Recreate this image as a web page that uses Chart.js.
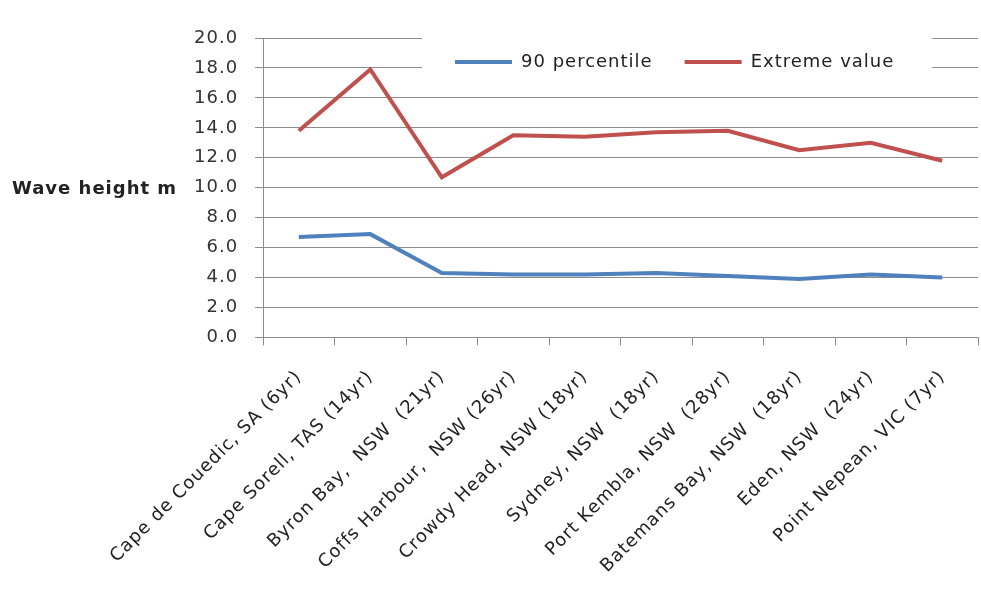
<!DOCTYPE html>
<html>
<head>
<meta charset="utf-8">
<script src="https://cdn.jsdelivr.net/npm/chart.js@4.4.0/dist/chart.umd.min.js"></script>
<style>
	html, body { margin: 0; padding: 0; background: #fff; }
</style>
</head>
<body>
<canvas id="myChart" width="981" height="590"></canvas>
<script>
const stations = [
	'Cape de Couedic, SA (6yr)',
	'Cape Sorell, TAS (14yr)',
	'Byron Bay,  NSW  (21yr)',
	'Coffs Harbour,  NSW (26yr)',
	'Crowdy Head, NSW (18yr)',
	'Sydney, NSW  (18yr)',
	'Port Kembla, NSW  (28yr)',
	'Batemans Bay, NSW  (18yr)',
	'Eden, NSW  (24yr)',
	'Point Nepean, VIC (7yr)'
];
const percentile90 = [6.7, 6.9, 4.3, 4.2, 4.2, 4.3, 4.1, 3.9, 4.2, 4.0];
const extremeValue = [13.8, 17.9, 10.7, 13.5, 13.4, 13.7, 13.8, 12.5, 13.0, 11.8];
const yMin = 0, yMax = 20, yStep = 2;
const yTitle = 'Wave height m';

const gridColor = '#8c8c8c';
const textColor = '#333333';

Chart.defaults.font.family = "'DejaVu Sans', sans-serif";
Chart.defaults.font.size = 18;
Chart.defaults.color = textColor;

// the original text is widely spaced
const spacing = {
	id: 'spacing',
	beforeUpdate(chart) { chart.ctx.letterSpacing = '1px'; },
	beforeDraw(chart) { chart.ctx.letterSpacing = '1px'; }
};

// legend sits inside the plot, on a white patch
const legendInside = {
	id: 'legendInside',
	afterLayout(chart) {
		const lg = chart.legend;
		lg.left = 423; lg.right = 981;
		lg.top = 21; lg.bottom = 100;
	},
	afterDraw(chart) {
		const ctx = chart.ctx;
		const lg = chart.legend;
		const boxes = lg.legendHitBoxes;
		const last = boxes[boxes.length - 1];
		const l = boxes[0].left - 33;
		const r = last.left + last.width + 38;
		const cy = boxes[0].top + boxes[0].height / 2;
		ctx.save();
		ctx.fillStyle = '#fff';
		ctx.fillRect(l, cy - 28, r - l, 40);
		ctx.restore();
		lg.draw();

		// horizontal axis title on the left
		const area = chart.chartArea;
		ctx.save();
		ctx.font = "bold 18px 'DejaVu Sans', sans-serif";
		ctx.fillStyle = '#222';
		ctx.textAlign = 'left';
		ctx.textBaseline = 'middle';
		ctx.fillText(yTitle, 12, (area.top + area.bottom) / 2 + 2);
		ctx.restore();
	}
};

const ctx = document.getElementById('myChart').getContext('2d');
const myChart = new Chart(ctx, {
	type: 'line',
	data: {
		labels: stations,
		datasets: [{
			label: '90 percentile',
			data: percentile90,
			borderColor: '#4F81BD',
			backgroundColor: '#4F81BD',
			borderWidth: 4,
			pointRadius: 0,
			tension: 0,
			fill: false
		}, {
			label: 'Extreme value',
			data: extremeValue,
			borderColor: '#C0504D',
			backgroundColor: '#C0504D',
			borderWidth: 4,
			pointRadius: 0,
			tension: 0,
			fill: false
		}]
	},
	options: {
		responsive: false,
		animation: false,
		devicePixelRatio: 1,
		layout: { padding: { left: 177, right: 3, top: 37, bottom: -8 } },
		plugins: {
			tooltip: { enabled: false },
			legend: {
				position: 'top',
				align: 'start',
				maxHeight: 1,
				labels: {
					usePointStyle: true,
					pointStyle: 'line',
					pointStyleWidth: 57,
					padding: 32,
					color: '#222',
					font: { size: 18 }
				}
			}
		},
		scales: {
			x: {
				offset: true,
				grid: { offset: true, drawOnChartArea: false, drawTicks: true, tickLength: 8, color: gridColor },
				border: { color: gridColor },
				ticks: { maxRotation: 45, minRotation: 45, autoSkip: false, padding: 21, color: '#222' }
			},
			y: {
				min: yMin,
				max: yMax,
				grid: { color: gridColor, tickLength: 8 },
				border: { color: gridColor },
				ticks: {
					stepSize: yStep,
					padding: 17,
					callback: (v) => v.toFixed(1)
				}
			}
		}
	},
	plugins: [spacing, legendInside]
});
</script>
</body>
</html>
